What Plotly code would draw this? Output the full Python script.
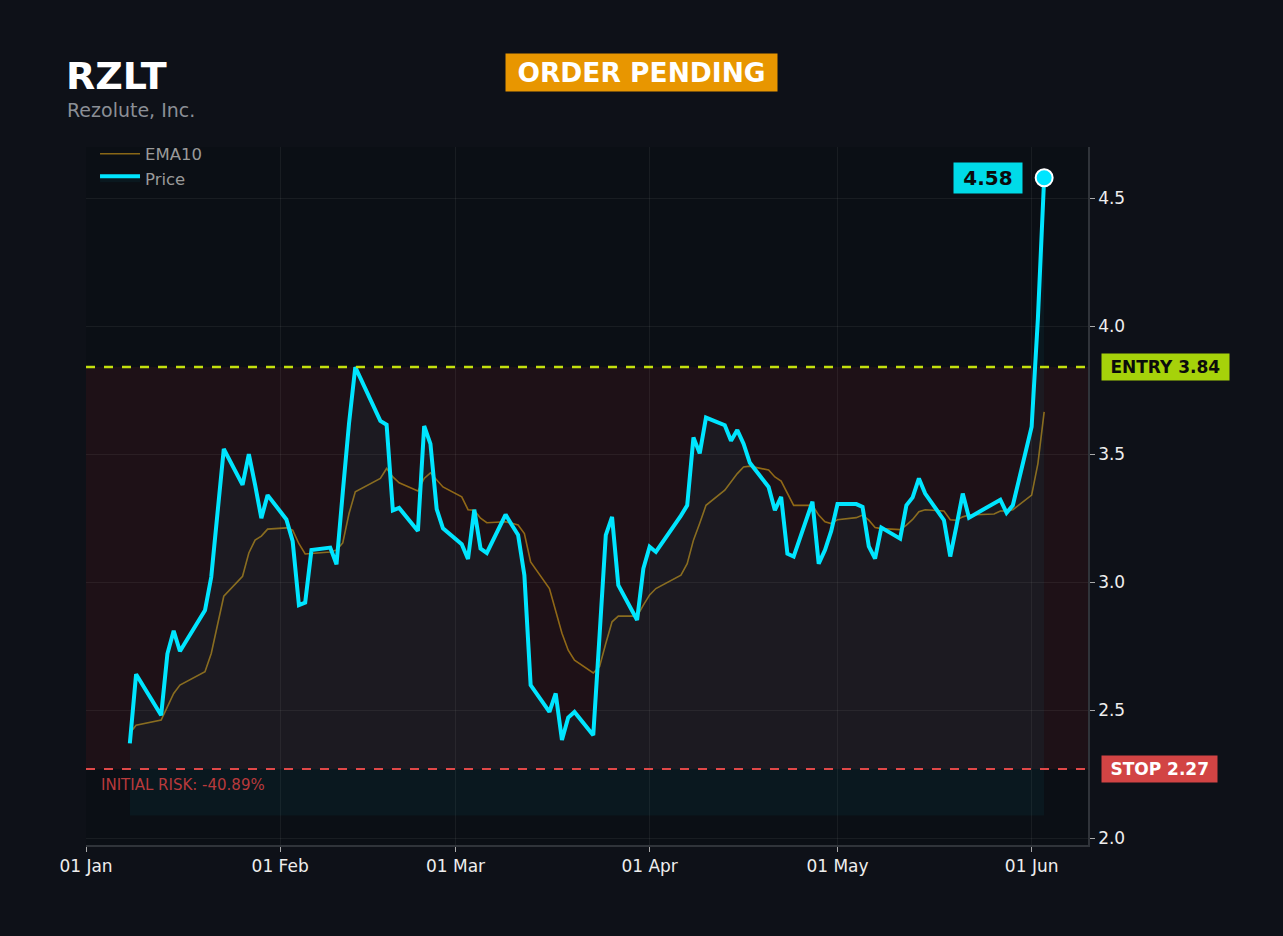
import plotly.graph_objects as go

# --- data ---
ticker = "RZLT"
company = "Rezolute, Inc."
entry_price = 3.84
stop_price = 2.27
last_price = 4.58

dates = [
    "2026-01-08", "2026-01-09", "2026-01-13", "2026-01-14", "2026-01-15", "2026-01-16",
    "2026-01-20", "2026-01-21", "2026-01-22", "2026-01-23",
    "2026-01-26", "2026-01-27", "2026-01-28", "2026-01-29", "2026-01-30",
    "2026-02-02", "2026-02-03", "2026-02-04", "2026-02-05", "2026-02-06",
    "2026-02-09", "2026-02-10", "2026-02-11", "2026-02-12", "2026-02-13",
    "2026-02-17", "2026-02-18", "2026-02-19", "2026-02-20",
    "2026-02-23", "2026-02-24", "2026-02-25", "2026-02-26", "2026-02-27",
    "2026-03-02", "2026-03-03", "2026-03-04", "2026-03-05", "2026-03-06",
    "2026-03-09", "2026-03-10", "2026-03-11", "2026-03-12", "2026-03-13",
    "2026-03-16", "2026-03-17", "2026-03-18", "2026-03-19", "2026-03-20",
    "2026-03-23", "2026-03-24", "2026-03-25", "2026-03-26", "2026-03-27",
    "2026-03-30", "2026-03-31", "2026-04-01", "2026-04-02",
    "2026-04-06", "2026-04-07", "2026-04-08", "2026-04-09", "2026-04-10",
    "2026-04-13", "2026-04-14", "2026-04-15", "2026-04-16", "2026-04-17",
    "2026-04-20", "2026-04-21", "2026-04-22", "2026-04-23", "2026-04-24",
    "2026-04-27", "2026-04-28", "2026-04-29", "2026-04-30", "2026-05-01",
    "2026-05-04", "2026-05-05", "2026-05-06", "2026-05-07", "2026-05-08",
    "2026-05-11", "2026-05-12", "2026-05-13", "2026-05-14", "2026-05-15",
    "2026-05-18", "2026-05-19", "2026-05-20", "2026-05-21", "2026-05-22",
    "2026-05-26", "2026-05-27", "2026-05-28", "2026-05-29",
    "2026-06-01", "2026-06-02", "2026-06-03",
]

price = [
    2.37, 2.64, 2.48, 2.72, 2.81, 2.73,
    2.89, 3.02, 3.27, 3.52,
    3.38, 3.50, 3.38, 3.25, 3.34,
    3.245, 3.16, 2.91, 2.92, 3.125,
    3.135, 3.07, 3.35, 3.62, 3.84,
    3.63, 3.615, 3.28, 3.29,
    3.20, 3.61, 3.54, 3.285, 3.21,
    3.148, 3.09, 3.283, 3.131, 3.114,
    3.264, 3.223, 3.184, 3.027, 2.598,
    2.493, 2.565, 2.383, 2.471, 2.493,
    2.402, 2.79, 3.184, 3.255, 2.988,
    2.852, 3.053, 3.138, 3.118,
    3.26, 3.30, 3.565, 3.503, 3.643,
    3.613, 3.552, 3.594, 3.541, 3.466,
    3.372, 3.281, 3.333, 3.111, 3.10,
    3.314, 3.072, 3.125, 3.20, 3.305,
    3.305, 3.294, 3.14, 3.092, 3.213,
    3.17, 3.30, 3.331, 3.405, 3.346,
    3.242, 3.10, 3.22, 3.346, 3.252,
    3.307, 3.322, 3.271, 3.30,
    3.607, 4.03, 4.58,
]

ema10 = [
    2.41, 2.441, 2.461, 2.513, 2.565, 2.598,
    2.65, 2.721, 2.838, 2.945,
    3.023, 3.114, 3.164, 3.18, 3.207,
    3.212, 3.203, 3.15, 3.11, 3.112,
    3.118, 3.125, 3.153, 3.268, 3.353,
    3.405, 3.444, 3.411, 3.388,
    3.356, 3.405, 3.427, 3.40, 3.372,
    3.333, 3.283, 3.281, 3.25, 3.232,
    3.236, 3.23, 3.223, 3.19, 3.079,
    2.975, 2.891, 2.80, 2.734, 2.695,
    2.645, 2.67, 2.76, 2.845, 2.867,
    2.867, 2.91, 2.95, 2.975,
    3.027, 3.072, 3.164, 3.23, 3.30,
    3.359, 3.39, 3.424, 3.45, 3.453,
    3.438, 3.411, 3.395, 3.345, 3.30,
    3.30, 3.262, 3.236, 3.229, 3.244,
    3.252, 3.262, 3.242, 3.213, 3.209,
    3.205, 3.223, 3.245, 3.275, 3.283,
    3.278, 3.244, 3.242, 3.255, 3.262,
    3.266, 3.278, 3.278, 3.283,
    3.34, 3.463, 3.665,
]

risk_pct = (stop_price - entry_price) / entry_price * 100

# style
BG = "#0e1118"
PLOT_BG = "#0b0f15"
CYAN = "#00e5ff"
FONT = "DejaVu Sans"
FILL_FLOOR = 2.0884
SP = "&nbsp;"

fig = go.Figure()

fig.add_trace(go.Scatter(
    x=dates, y=ema10, name="EMA10", mode="lines",
    line=dict(color="rgba(214,158,22,0.62)", width=1.6),
))

# invisible floor so the price area only fills down to it
fig.add_trace(go.Scatter(
    x=dates, y=[FILL_FLOOR] * len(dates), mode="lines",
    line=dict(width=0, color="rgba(0,0,0,0)"),
    showlegend=False, hoverinfo="skip",
))

fig.add_trace(go.Scatter(
    x=dates, y=price, name="Price", mode="lines",
    line=dict(color=CYAN, width=4),
    fill="tonexty", fillcolor="rgba(0,229,255,0.045)",
))

fig.add_trace(go.Scatter(
    x=[dates[-1]], y=[price[-1]], mode="markers", showlegend=False,
    marker=dict(size=17, color=CYAN, line=dict(color="white", width=2)),
))

# risk zone between stop and entry
fig.add_shape(type="rect", xref="paper", x0=0, x1=1, y0=stop_price, y1=entry_price,
              fillcolor="rgba(230,50,50,0.085)", line_width=0, layer="below")
fig.add_shape(type="line", xref="paper", x0=0, x1=1, y0=entry_price, y1=entry_price,
              line=dict(color="#c2e00e", width=2.5, dash="dash"))
fig.add_shape(type="line", xref="paper", x0=0, x1=1, y0=stop_price, y1=stop_price,
              line=dict(color="#e04848", width=2.2, dash="dash"))

annotations = [
    dict(text=f"{SP}<b>ENTRY {entry_price:.2f}</b>{SP}", xref="paper", x=1, y=entry_price,
         xanchor="left", yanchor="middle", xshift=13, showarrow=False,
         bgcolor="#a6d20a", borderpad=3, font=dict(color="#0b0b0b", size=17, family=FONT)),
    dict(text=f"{SP}<b>STOP {stop_price:.2f}</b>{SP}", xref="paper", x=1, y=stop_price,
         xanchor="left", yanchor="middle", xshift=13, showarrow=False,
         bgcolor="#d24444", borderpad=3, font=dict(color="white", size=17, family=FONT)),
    dict(text=f"INITIAL RISK: {risk_pct:.2f}%", xref="paper", x=0, y=stop_price,
         xanchor="left", yanchor="middle", xshift=13, yshift=-16, showarrow=False,
         font=dict(color="#b83a3c", size=15, family=FONT)),
    dict(text=f"{SP}<b>{last_price:.2f}</b>{SP}", x=dates[-1], y=last_price,
         xanchor="right", yanchor="middle", xshift=-21, showarrow=False,
         bgcolor="#00dbe8", borderpad=3, font=dict(color="#0b0b0b", size=20, family=FONT)),
    dict(text=f"<b>{ticker}</b>", xref="paper", yref="paper", x=0, y=1,
         xanchor="left", yanchor="middle", xshift=-22, yshift=71, showarrow=False,
         font=dict(color="white", size=38, family=FONT)),
    dict(text=company, xref="paper", yref="paper", x=0, y=1,
         xanchor="left", yanchor="middle", xshift=-21, yshift=37, showarrow=False,
         font=dict(color="#8b8f96", size=19, family=FONT)),
    dict(text=f"{SP}<b>ORDER PENDING</b>{SP}", xref="paper", yref="paper", x=0.554, y=1,
         xanchor="center", yanchor="middle", yshift=75, showarrow=False,
         bgcolor="#e89600", borderpad=3, font=dict(color="white", size=26.5, family=FONT)),
]

fig.update_layout(
    width=1283, height=936,
    paper_bgcolor=BG, plot_bgcolor=PLOT_BG,
    margin=dict(l=86, r=195, t=147, b=91),
    font=dict(family=FONT, color="#e6e6e6", size=16),
    showlegend=True,
    legend=dict(x=0.009, y=1.015, xanchor="left", yanchor="top", traceorder="normal",
                bgcolor="rgba(0,0,0,0)", font=dict(color="#9a9a9a", size=16.5),
                itemwidth=40),
    annotations=annotations,
)

fig.update_xaxes(
    range=["2026-01-01", "2026-06-10"],
    tickformat="%d %b", dtick="M1", tick0="2026-01-01",
    showgrid=True, gridcolor="rgba(255,255,255,0.06)",
    showline=True, linecolor="#30343a", linewidth=1.5,
    ticks="outside", ticklen=5, tickcolor="#aaaaaa",
    tickfont=dict(size=17, color="#eeeeee"), zeroline=False,
)
fig.update_yaxes(
    range=[1.973, 4.70], side="right",
    tickformat=".1f", dtick=0.5, tick0=2.0,
    showgrid=True, gridcolor="rgba(255,255,255,0.06)",
    showline=True, linecolor="#30343a", linewidth=1.5,
    ticks="outside", ticklen=5, tickcolor="#aaaaaa",
    tickfont=dict(size=17, color="#eeeeee"), zeroline=False,
)

fig.write_html(
    "out.html",
    config={"displayModeBar": False},
    post_script="document.body.style.margin='0';document.body.style.background='#0e1118';",
)
